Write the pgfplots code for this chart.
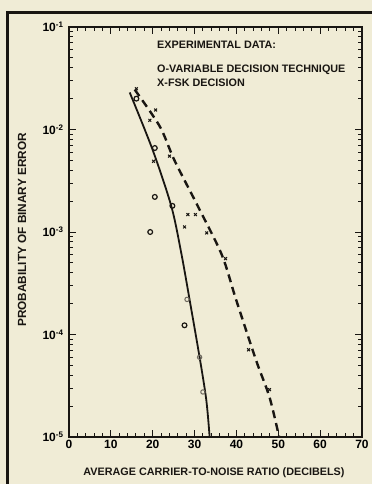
\documentclass[border=0pt]{standalone}
\usepackage{pgfplots}
\pgfplotsset{compat=1.18}
\usepackage{fontspec}
\setmainfont{Liberation Sans}
\definecolor{bgcol}{RGB}{240,236,214}
\definecolor{ink}{RGB}{25,22,18}
\definecolor{faded}{RGB}{110,105,95}
\begin{document}
\begin{tikzpicture}
\useasboundingbox (0pt,0pt) rectangle (372pt,484pt);
\fill[bgcol] (0pt,0pt) rectangle (372pt,484pt);
\draw[ink,line width=3pt] (7pt,0pt) -- (7pt,471pt) -- (372pt,471pt);
\begin{axis}[
  at={(69pt,47pt)}, anchor=south west,
  scale only axis, width=293pt, height=410pt,
  xmin=0, xmax=70, ymode=log, ymin=1e-5, ymax=1e-1,
  axis line style={ink,line width=2.2pt},
  every tick/.style={ink,line width=1pt},
  major tick length=7pt, minor tick length=4pt,
  xtick={0,10,...,70}, minor x tick num=4,
  ytick={1e-5,1e-4,1e-3,1e-2,1e-1},
  yticklabels={{10\textsuperscript{-5}},{10\textsuperscript{-4}},{10\textsuperscript{-3}},{10\textsuperscript{-2}},{10\textsuperscript{-1}}},
  xticklabel style={font=\bfseries\fontsize{12}{13}\selectfont, yshift=0pt},
  yticklabel style={font=\bfseries\fontsize{12}{13}\selectfont, xshift=-2pt},
  /pgf/number format/assume math mode=true,
  clip=false,
]
\addplot[ink, line width=1.8pt, smooth] coordinates {
 (14.5,2.3e-2) (20.0,6.3e-3) (24.45,1.78e-3) (26.8,6.3e-4) (28.8,2.2e-4) (31.2,6.0e-5) (32.8,2.3e-5) (33.6,1e-5)};
\addplot[ink, line width=2.4pt, dash pattern=on 8pt off 5pt, smooth] coordinates {
 (15.7,2.45e-2) (21.7,1.07e-2) (25.2,5.0e-3) (30.8,1.78e-3) (36.5,6.0e-4) (39.9,2.2e-4) (44.7,5.6e-5) (47.9,2.45e-5) (50.2,1e-5)};
\addplot[only marks, mark=o, mark size=2.4pt, ink, mark options={line width=1.2pt}] coordinates {
 (16.1,2.0e-2) (20.5,6.6e-3) (20.5,2.2e-3) (24.7,1.8e-3) (19.4,1.0e-3) (27.6,1.23e-4)};
\addplot[only marks, mark=o, mark size=2.2pt, faded, mark options={line width=1pt}] coordinates {
 (28.2,2.2e-4) (31.2,6.0e-5) (32.0,2.75e-5)};
\addplot[only marks, mark=x, mark size=2pt, ink, mark options={line width=1pt}] coordinates {
 (16.1,2.5e-2) (20.7,1.55e-2) (19.3,1.23e-2) (20.2,4.9e-3) (24.0,5.5e-3) (28.4,1.48e-3) (30.2,1.48e-3) (27.6,1.12e-3) (32.9,9.8e-4) (37.4,5.5e-4) (42.9,7.1e-5) (47.9,2.9e-5)};
\end{axis}
\begin{scope}[every node/.style={font=\bfseries\fontsize{10.8}{12}\selectfont, text=ink, inner sep=0pt}]
\node[anchor=west] at (157pt,439pt) {EXPERIMENTAL DATA:};
\node[anchor=west] at (157pt,414pt) {O-VARIABLE DECISION TECHNIQUE};
\node[anchor=west] at (157pt,401pt) {X-FSK DECISION};
\node at (214pt,11pt) {AVERAGE CARRIER-TO-NOISE RATIO (DECIBELS)};
\node[rotate=90, font=\bfseries\fontsize{11.8}{13}\selectfont] at (22pt,254pt) {PROBABILITY OF BINARY ERROR};
\end{scope}
\end{tikzpicture}
\end{document}
